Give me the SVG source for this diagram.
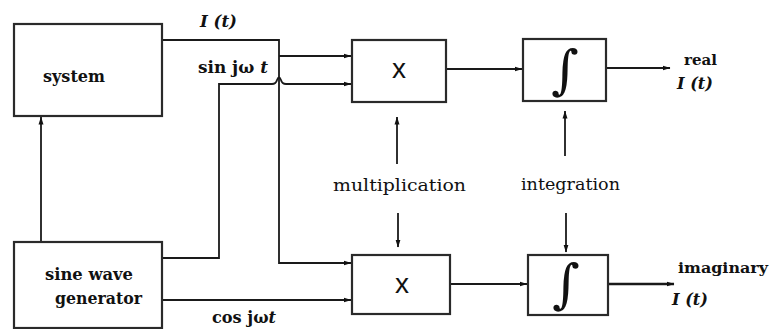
<svg xmlns="http://www.w3.org/2000/svg" width="773" height="329" viewBox="0 0 773 329">
  <style>
    .box { fill: #ffffff; stroke: #2a2a2a; stroke-width: 2.2; }
    .wire { fill: none; stroke: #1a1a1a; stroke-width: 1.8; }
    .thick { stroke-width: 2.4; }
    .lbl { font-family: "DejaVu Serif", "Liberation Serif", serif; fill: #111; }
    .b { font-weight: bold; }
    .it { font-style: italic; font-weight: bold; }
    .op { font-family: "Liberation Sans", Arial, sans-serif; fill: #111; }
    .int { font-family: "DejaVu Serif", "Liberation Serif", serif; fill: #111; }
  </style>
  <defs>
    <marker id="arr" markerWidth="8" markerHeight="6" refX="7.5" refY="3" orient="auto" markerUnits="userSpaceOnUse">
      <path d="M0,0.5 L8,3 L0,5.5 Z" fill="#111"/>
    </marker>
  </defs>

  <g id="connectors">
    <!-- system output I(t) to both multipliers -->
    <path class="wire" d="M162,40 H279 V263 H351" marker-end="url(#arr)"/>
    <path class="wire" d="M279,56 H351" marker-end="url(#arr)"/>
    <!-- sine output, hopping over the I(t) line -->
    <path class="wire" d="M162,258 H219 V84 H272 Q276,84 277,80 Q279,75 281,80 Q282,84 286,84 H351" marker-end="url(#arr)"/>
    <!-- cosine output -->
    <path class="wire" d="M162,300 H351" marker-end="url(#arr)"/>
    <!-- generator drives the system -->
    <path class="wire" d="M41,242 V117" marker-end="url(#arr)"/>
    <!-- multiplier to integrator -->
    <path class="wire" d="M446,69 H522" marker-end="url(#arr)"/>
    <path class="wire" d="M450,284 H527" marker-end="url(#arr)"/>
    <!-- outputs -->
    <path class="wire" d="M606,68 H670" marker-end="url(#arr)"/>
    <path class="wire thick" d="M608,284 H674" marker-end="url(#arr)"/>
    <!-- label arrows -->
    <path class="wire" d="M397,164 V117" marker-end="url(#arr)"/>
    <path class="wire" d="M565,156 V111" marker-end="url(#arr)"/>
    <path class="wire" d="M398,213 V247" marker-end="url(#arr)"/>
    <path class="wire" d="M566,213 V252" marker-end="url(#arr)"/>
  </g>

  <g id="system">
    <rect class="box" x="14" y="24" width="148" height="92"/>
    <text class="lbl b" x="43" y="82" font-size="16" textLength="62" lengthAdjust="spacingAndGlyphs">system</text>
  </g>

  <g id="generator">
    <rect class="box" x="14" y="242" width="148" height="86"/>
    <text class="lbl b" x="45" y="280" font-size="16" textLength="88" lengthAdjust="spacingAndGlyphs">sine wave</text>
    <text class="lbl b" x="55" y="304" font-size="16" textLength="87" lengthAdjust="spacingAndGlyphs">generator</text>
  </g>

  <g id="mult-top">
    <rect class="box" x="352" y="40" width="94" height="62"/>
    <text class="op" x="399" y="78" font-size="28" text-anchor="middle">x</text>
  </g>

  <g id="mult-bottom">
    <rect class="box" x="352" y="255" width="98" height="59"/>
    <text class="op" x="402" y="293" font-size="28" text-anchor="middle">x</text>
  </g>

  <g id="int-top">
    <rect class="box" x="523" y="39" width="83" height="62"/>
    <text class="int" x="565" y="87.5" font-size="53" text-anchor="middle">∫</text>
  </g>

  <g id="int-bottom">
    <rect class="box" x="528" y="255" width="80" height="60"/>
    <text class="int" x="566" y="301.5" font-size="53" text-anchor="middle">∫</text>
  </g>

  <g id="labels">
    <text class="lbl it" x="200" y="27" font-size="16" textLength="37" lengthAdjust="spacingAndGlyphs">I (t)</text>
    <text class="lbl b" x="198" y="73" font-size="16" textLength="70" lengthAdjust="spacingAndGlyphs">sin jω <tspan font-style="italic">t</tspan></text>
    <text class="lbl b" x="212" y="323" font-size="16" textLength="64" lengthAdjust="spacingAndGlyphs">cos jω<tspan font-style="italic">t</tspan></text>
    <text class="lbl" x="333" y="191" font-size="17" textLength="133" lengthAdjust="spacingAndGlyphs">multiplication</text>
    <text class="lbl" x="521" y="190" font-size="17" textLength="99" lengthAdjust="spacingAndGlyphs">integration</text>
    <text class="lbl b" x="684" y="65" font-size="15" textLength="33" lengthAdjust="spacingAndGlyphs">real</text>
    <text class="lbl it" x="677" y="89" font-size="16" textLength="36" lengthAdjust="spacingAndGlyphs">I (t)</text>
    <text class="lbl b" x="678" y="273" font-size="15" textLength="90" lengthAdjust="spacingAndGlyphs">imaginary</text>
    <text class="lbl it" x="672" y="305" font-size="16" textLength="36" lengthAdjust="spacingAndGlyphs">I (t)</text>
  </g>
</svg>
